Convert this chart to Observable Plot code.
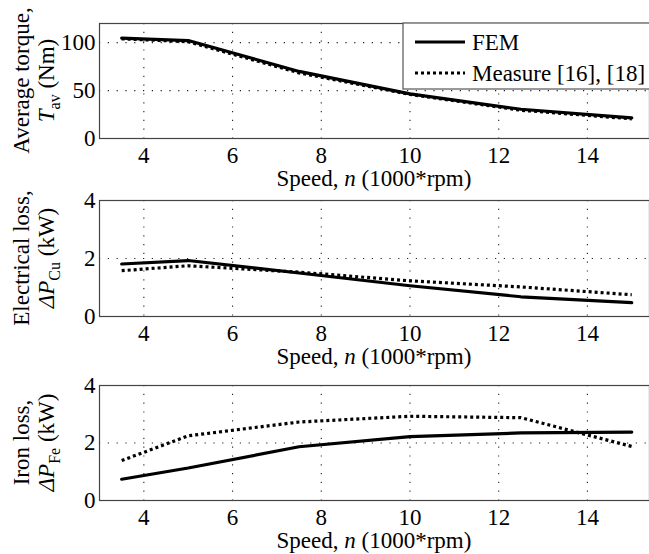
<!DOCTYPE html>
<html>
<head>
<meta charset="utf-8">
<script src="https://cdn.jsdelivr.net/npm/d3@7"></script>
<script src="https://cdn.jsdelivr.net/npm/@observablehq/plot@0.6"></script>
<style>
  html, body { margin: 0; padding: 0; background: #fff; }
  #chart svg { display: block; }
</style>
</head>
<body>
<div id="chart"></div>
<script>
// Speed, n (1000*rpm)
const speed = [3.5, 5, 7.5, 10, 12.5, 15];
const xTicks = [4, 6, 8, 10, 12, 14];

// Average torque T_av (Nm)
const torqueFEM = [104.8, 102.2, 70, 46.5, 30.5, 21.5];
const torqueMeas = [104, 101, 68.5, 46, 29.5, 20.5];
const torqueTicks = [0, 50, 100];

// Electrical loss ΔP_Cu (kW)
const cuFEM = [1.81, 1.93, 1.5, 1.06, 0.68, 0.48];
const cuMeas = [1.58, 1.75, 1.53, 1.23, 1.02, 0.75];
const lossTicks = [0, 2, 4];

// Iron loss ΔP_Fe (kW)
const feFEM = [0.74, 1.13, 1.87, 2.22, 2.35, 2.38];
const feMeas = [1.39, 2.25, 2.73, 2.93, 2.88, 1.88];

const seriesNames = ["FEM", "Measure [16], [18]"];

const FONT = "'Liberation Serif', 'Times New Roman', serif";
const W = 649, ML = 99;

function panel({height, marginTop, marginBottom, yDomain, yTicks, fem, meas, line1, line2, sub, line2tail, legend}) {
  const rows = speed.map((s, i) => ({s, fem: fem[i], meas: meas[i]}));
  const gridY = yTicks.filter(t => t > yDomain[0] && t < yDomain[1]);
  const svg = Plot.plot({
    width: W, height, marginLeft: ML, marginRight: 0, marginTop, marginBottom,
    style: {fontFamily: FONT, fontSize: "23px", color: "#000", background: "#fff", overflow: "visible"},
    x: {domain: [3, 15.4], label: null},
    y: {domain: yDomain, label: null},
    marks: [
      Plot.gridX(xTicks, {stroke: "#222", strokeOpacity: 1, strokeWidth: 1.1, strokeDasharray: "1.2,7.6"}),
      Plot.gridY(gridY, {stroke: "#222", strokeOpacity: 1, strokeWidth: 1.1, strokeDasharray: "1.2,7.6"}),
      Plot.axisX(xTicks, {tickSize: 0, tickPadding: 8, fontSize: 23, fill: "#000", tickFormat: d => d}),
      Plot.axisY(yTicks, {tickSize: 0, tickPadding: 4, fontSize: 23, fill: "#000", tickFormat: d => d}),
      Plot.frame({stroke: "#444", strokeWidth: 1.2}),
      Plot.line(rows, {x: "s", y: "fem", stroke: "#000", strokeWidth: 3.2}),
      Plot.line(rows, {x: "s", y: "meas", stroke: "#000", strokeWidth: 3.2, strokeDasharray: "3,3", strokeLinecap: "butt", strokeLinejoin: "miter"})
    ]
  });
  const s = d3.select(svg);
  const bottom = height - marginBottom;
  const cy = (marginTop + bottom) / 2;
  // x-axis label
  const xl = s.append("text").attr("x", 374).attr("y", bottom + 48)
    .attr("text-anchor", "middle").attr("font-family", FONT).attr("font-size", 23).attr("fill", "#000");
  xl.append("tspan").text("Speed, ");
  xl.append("tspan").attr("font-style", "italic").text("n");
  xl.append("tspan").text(" (1000*rpm)");
  // y-axis label (two lines)
  s.append("text").attr("transform", `translate(29,${cy}) rotate(-90)`)
    .attr("text-anchor", "middle").attr("font-family", FONT).attr("font-size", 23).attr("fill", "#000")
    .text(line1);
  const t2 = s.append("text").attr("transform", `translate(54,${cy}) rotate(-90)`)
    .attr("text-anchor", "middle").attr("font-family", FONT).attr("font-size", 23).attr("fill", "#000");
  t2.append("tspan").attr("font-style", "italic").text(line2);
  t2.append("tspan").attr("font-size", 16).attr("dy", 6).text(sub);
  t2.append("tspan").attr("dy", -6).text(line2tail);
  if (legend) {
    const g = s.append("g");
    g.append("rect").attr("x", 403).attr("y", marginTop).attr("width", 260).attr("height", 66)
      .attr("fill", "#fff").attr("stroke", "#555").attr("stroke-width", 1.2);
    const ys = [marginTop + 19, marginTop + 50];
    seriesNames.forEach((name, i) => {
      g.append("line").attr("x1", 415).attr("x2", 465).attr("y1", ys[i]).attr("y2", ys[i])
        .attr("stroke", "#000").attr("stroke-width", 3.2).attr("stroke-linecap", "butt")
        .attr("stroke-dasharray", i === 0 ? null : "3,3");
      g.append("text").attr("x", 472).attr("y", ys[i] + 8).attr("text-anchor", "start")
        .attr("font-family", FONT).attr("font-size", 23).attr("fill", "#000").text(name);
    });
  }
  return svg;
}

const root = document.getElementById("chart");
root.appendChild(panel({height: 190, marginTop: 23, marginBottom: 52, yDomain: [0, 120], yTicks: torqueTicks,
  fem: torqueFEM, meas: torqueMeas, line1: "Average torque,", line2: "T", sub: "av", line2tail: " (Nm)", legend: true}));
root.appendChild(panel({height: 178, marginTop: 10, marginBottom: 52, yDomain: [0, 4], yTicks: lossTicks,
  fem: cuFEM, meas: cuMeas, line1: "Electrical loss,", line2: "ΔP", sub: "Cu", line2tail: " (kW)"}));
root.appendChild(panel({height: 186, marginTop: 17, marginBottom: 54, yDomain: [0, 4], yTicks: lossTicks,
  fem: feFEM, meas: feMeas, line1: "Iron loss,", line2: "ΔP", sub: "Fe", line2tail: " (kW)"}));
</script>
</body>
</html>
